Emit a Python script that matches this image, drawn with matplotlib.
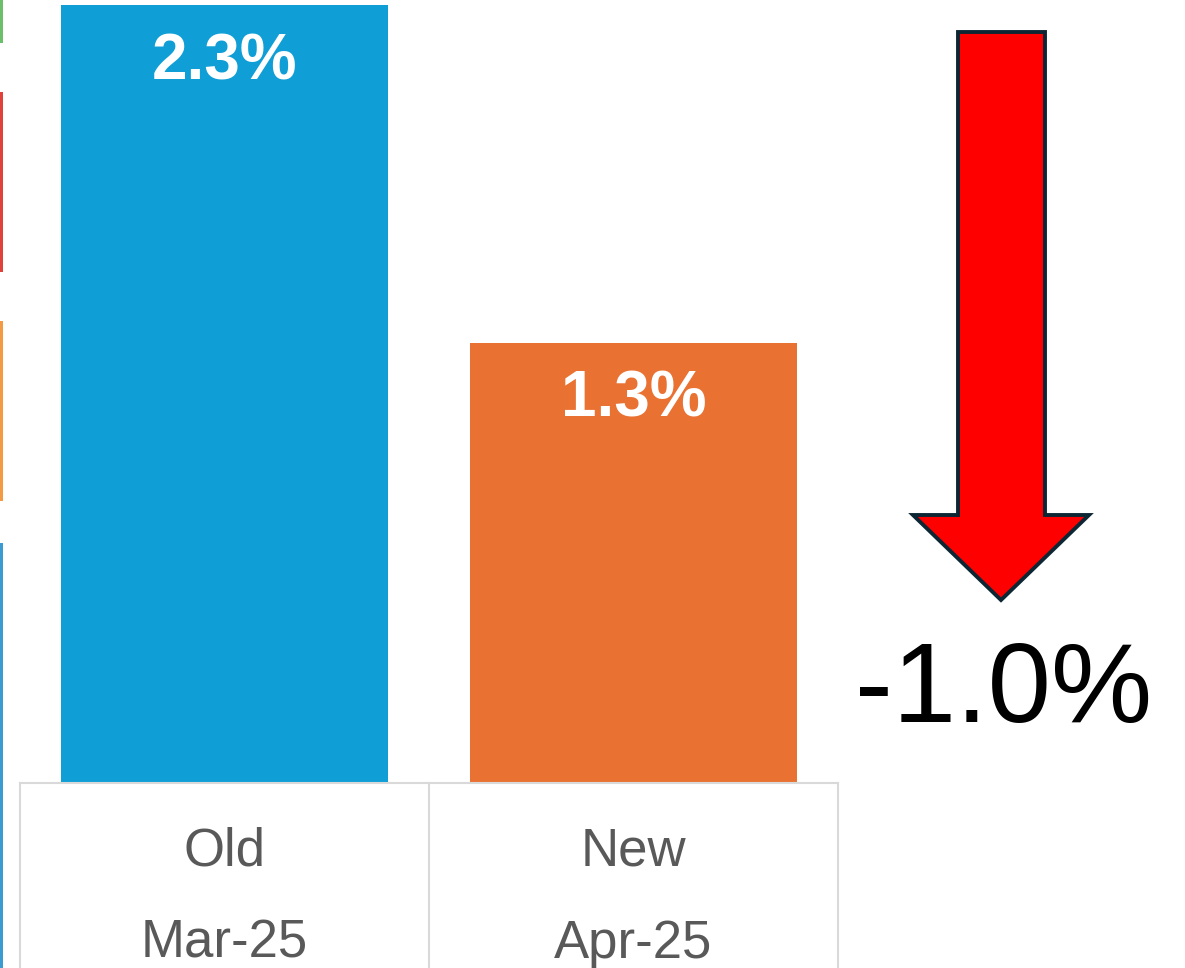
import matplotlib
matplotlib.use("Agg")
import matplotlib.pyplot as plt
from matplotlib.patches import Polygon, Rectangle

plt.rcParams['font.family'] = ['Liberation Sans', 'DejaVu Sans']

# ---- data ----
categories = ["Old", "New"]
periods = ["Mar-25", "Apr-25"]
values = [2.3, 1.3]
bar_colors = ["#0F9ED5", "#E97132"]
change_label = "-1.0%"
legend_strip_colors = ["#6BBF6A", "#E0413A", "#F39A45", "#3A9BD0"]

W, H = 1185, 968
fig = plt.figure(figsize=(W / 100, H / 100), dpi=100)
fig.patch.set_facecolor("white")

def fx(px):
    return px / W

def fy(py):
    return 1 - py / H

# ---- bar axes ----
ax_left, ax_right = 20, 838
ax_bottom, ax_top = 782, 0
ax = fig.add_axes([fx(ax_left), fy(ax_bottom), fx(ax_right - ax_left), (ax_bottom - ax_top) / H])
x = list(range(len(categories)))
ax.bar(x, values, width=0.8, color=bar_colors, zorder=2)
ax.set_xlim(-0.5, len(categories) - 0.5)
px_per_unit = 777 / 2.3
ax.set_ylim(0, (ax_bottom - ax_top) / px_per_unit)
ax.axis("off")
for xi, v in zip(x, values):
    ax.annotate(f"{v:.1f}%", xy=(xi, v), xytext=(0, -74 * 0.72), textcoords="offset points",
                ha="center", va="baseline", color="white", fontsize=46, fontweight="bold")

# ---- category table ----
tab = fig.add_axes([fx(ax_left), 0, fx(ax_right - ax_left), (H - 783) / H])
tab.set_xlim(-0.5, len(categories) - 0.5)
tab.set_ylim(H - 783, 0)
tab.axis("off")
grid_c = "#D9D9D9"
tab.plot([-0.5, len(categories) - 0.5], [0, 0], color=grid_c, lw=1.5, clip_on=False)
for b in [i - 0.5 for i in range(len(categories) + 1)]:
    tab.plot([b, b], [0, H - 783], color=grid_c, lw=1.5, clip_on=False)
for xi, c, p in zip(x, categories, periods):
    tab.text(xi, 865 - 783, c, ha="center", va="baseline", fontsize=38, color="#595959")
    tab.text(xi, 958 - 783, p, ha="center", va="baseline", fontsize=38, color="#595959")

# ---- left edge strips (cropped legend) ----
strip_spans = [(0, 43), (92, 272), (321, 501), (543, 968)]
for col, (a, b) in zip(legend_strip_colors, strip_spans):
    fig.patches.append(Rectangle((0, fy(b)), fx(3), (b - a) / H, transform=fig.transFigure,
                                 facecolor=col, edgecolor="none"))

# ---- down arrow ----
arrow_px = [(958, 32), (1045, 32), (1045, 515), (1089, 515), (1001, 600),
            (913, 515), (958, 515)]
fig.patches.append(Polygon([(fx(a), fy(b)) for a, b in arrow_px], closed=True,
                           transform=fig.transFigure, facecolor="#FF0000",
                           edgecolor="#0D2633", linewidth=2.8, joinstyle="miter"))

fig.text(fx(1004), fy(722), change_label, ha="center", va="baseline", fontsize=82, color="black")

fig.savefig("out.png", dpi=100, facecolor="white")
